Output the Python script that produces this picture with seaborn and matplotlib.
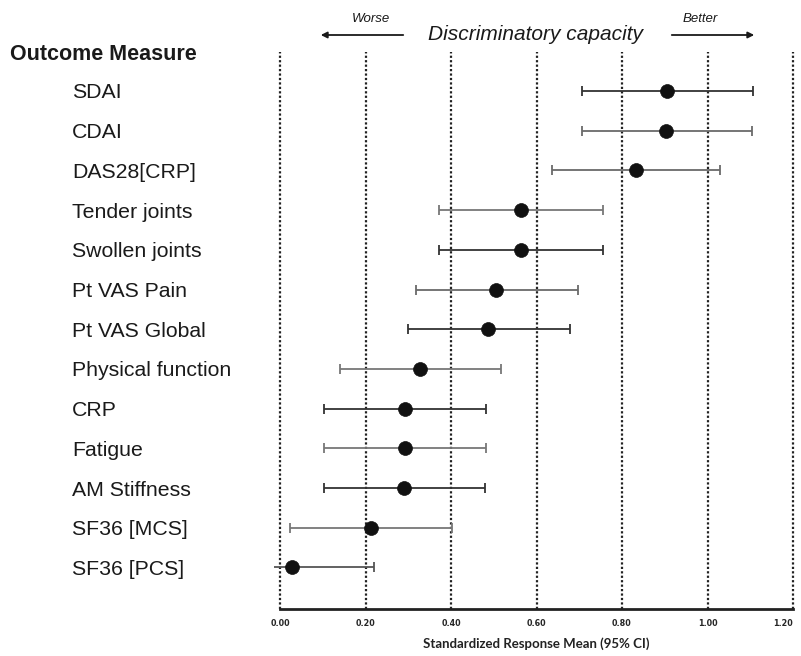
import numpy as np
import pandas as pd
import seaborn as sns
import matplotlib
matplotlib.use("Agg")
import matplotlib.pyplot as plt

measures = ["SDAI", "CDAI", "DAS28[CRP]", "Tender joints", "Swollen joints",
            "Pt VAS Pain", "Pt VAS Global", "Physical function", "CRP",
            "Fatigue", "AM Stiffness", "SF36 [MCS]", "SF36 [PCS]"]
srm = [0.906, 0.903, 0.833, 0.564, 0.564, 0.506, 0.487, 0.327, 0.293,
       0.293, 0.290, 0.213, 0.027]
ci_low = [0.706, 0.707, 0.637, 0.371, 0.371, 0.318, 0.300, 0.140, 0.103,
          0.103, 0.103, 0.024, -0.165]
ci_high = [1.107, 1.103, 1.030, 0.756, 0.756, 0.697, 0.679, 0.517, 0.483,
           0.483, 0.480, 0.402, 0.219]
xticks = [0.0, 0.2, 0.4, 0.6, 0.8, 1.0, 1.2]
xtick_labels = ["0.00", "0.20", "0.40", "0.60", "0.80", "1.00", "1.20"]

df = pd.DataFrame({"measure": measures, "srm": srm, "lo": ci_low, "hi": ci_high})
df["row"] = np.arange(len(df))

sns.set_theme(style="white")
plt.rcParams["font.family"] = ["Liberation Sans", "DejaVu Sans"]

W, H = 801, 656
fig = plt.figure(figsize=(W / 100, H / 100), dpi=100)
x0, x1 = -0.015, 1.215
px_per = 513 / 1.2
left_px = 280 + x0 * px_per
width_px = (x1 - x0) * px_per
top_px, bot_px = 52, 609
ax = fig.add_axes([left_px / W, 1 - bot_px / H, width_px / W, (bot_px - top_px) / H])

row_step = 39.7
ylo = (bot_px - 91) / row_step
yhi = -(91 - top_px) / row_step
ax.set_xlim(x0, x1)
ax.set_ylim(ylo, yhi)

# dotted vertical gridlines
for xv in xticks:
    ax.axvline(xv, color="#222222", lw=1.6, ls=(0, (1, 1)), zorder=1)

bar_colors = ["#333333", "#6a6a6a", "#6a6a6a", "#777777", "#333333", "#6a6a6a",
              "#333333", "#777777", "#333333", "#777777", "#333333", "#777777", "#555555"]
for i, r in df.iterrows():
    ax.errorbar(r["srm"], r["row"],
                xerr=[[r["srm"] - r["lo"]], [r["hi"] - r["srm"]]],
                fmt="none", ecolor=bar_colors[i], elinewidth=1.3,
                capsize=3.5, capthick=1.3, zorder=2)

sns.scatterplot(data=df, x="srm", y="row", ax=ax, s=100, color="#111111",
                edgecolor="#111111", linewidth=0.5, zorder=3, legend=False)

# axes styling
for sp in ["top", "right", "left"]:
    ax.spines[sp].set_visible(False)
ax.spines["bottom"].set_bounds(0, 1.2)
ax.spines["bottom"].set_linewidth(2.0)
ax.spines["bottom"].set_color("#222222")
ax.set_xticks(xticks)
ax.set_xticklabels(xtick_labels, fontsize=5.8, fontweight="bold", family=["DejaVu Sans"])
ax.xaxis.get_major_ticks()[-1].label1.set_horizontalalignment("right")
ax.tick_params(axis="x", direction="inout", length=6, width=1.2, color="#222222", pad=4)
ax.set_yticks(df["row"])
ax.set_yticklabels(df["measure"], fontsize=15.3, ha="left", color="#1a1a1a")
ax.tick_params(axis="y", length=0, pad=(left_px - 72) * 0.72)
ax.set_xlabel("Standardized Response Mean (95% CI)", fontsize=9.5, fontweight="bold",
              family=["Lato", "DejaVu Sans"], labelpad=7, color="#222222")
ax.set_ylabel("")

fig.text(10 / W, 1 - 55 / H, "Outcome Measure", fontsize=15.5, fontweight="bold",
         ha="left", va="center", color="#1a1a1a")
fig.text(536 / W, 1 - 35 / H, "Discriminatory capacity", fontsize=15, style="italic",
         ha="center", va="center", color="#1a1a1a")
fig.text(371 / W, 1 - 19 / H, "Worse", fontsize=9.5, style="italic",
         ha="center", va="center", color="#1a1a1a")
fig.text(700 / W, 1 - 19 / H, "Better", fontsize=9.5, style="italic",
         ha="center", va="center", color="#1a1a1a")
ap = dict(arrowstyle="-|>", color="#1a1a1a", lw=1.3, mutation_scale=9)
fig.add_artist(matplotlib.patches.FancyArrowPatch((406 / W, 1 - 35 / H), (318 / W, 1 - 35 / H),
               transform=fig.transFigure, **ap))
fig.add_artist(matplotlib.patches.FancyArrowPatch((669 / W, 1 - 35 / H), (757 / W, 1 - 35 / H),
               transform=fig.transFigure, **ap))

fig.savefig("out.png", dpi=100)
